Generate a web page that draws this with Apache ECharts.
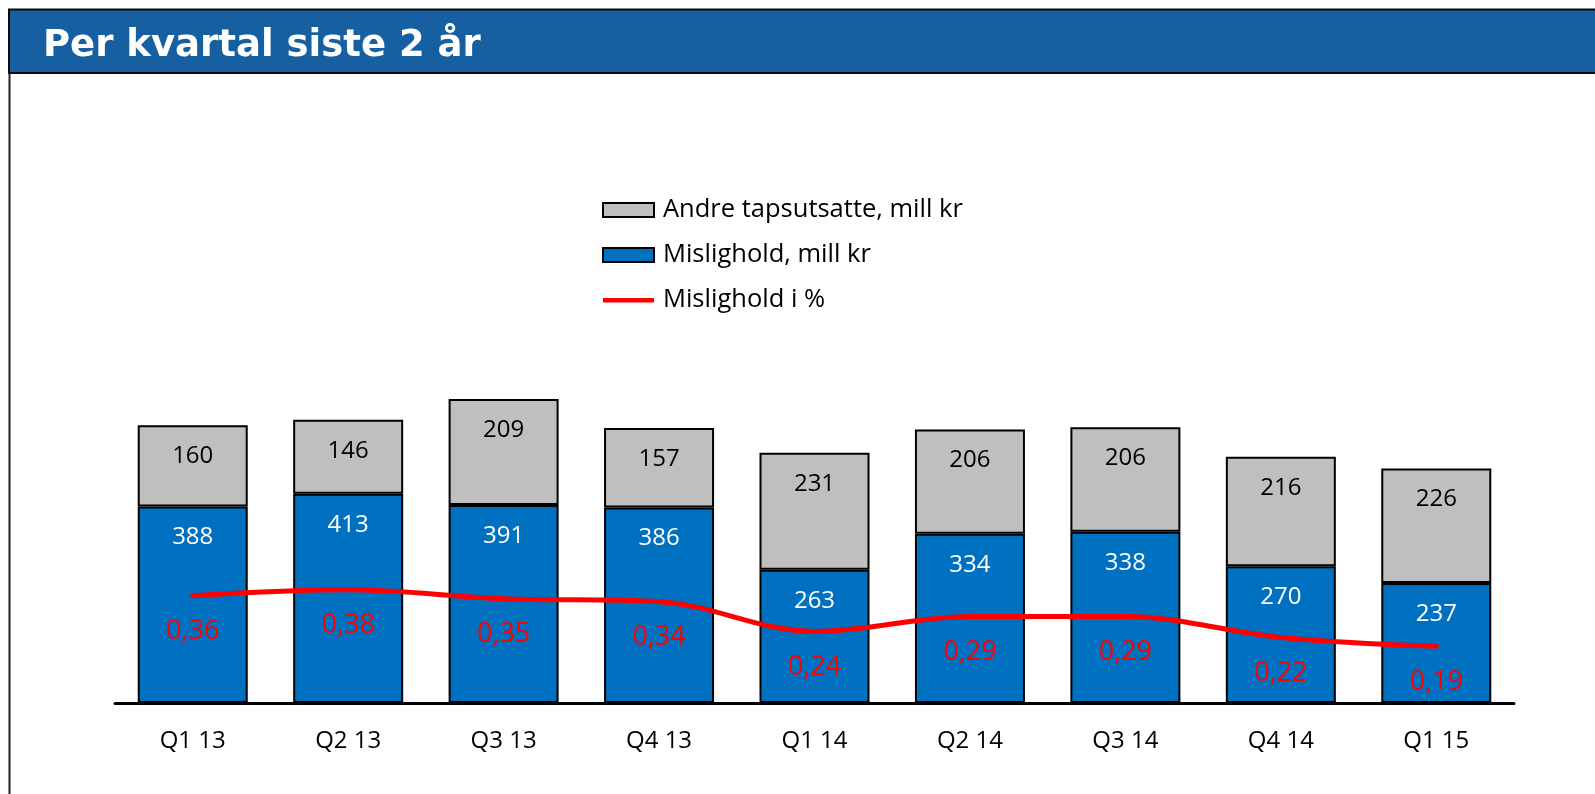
<!DOCTYPE html>
<html>
<head>
<meta charset="utf-8">
<script src="https://cdn.jsdelivr.net/npm/echarts@6/dist/echarts.min.js"></script>
<style>
html,body{margin:0;padding:0;background:#fff;}
#chart{width:1595px;height:794px;}
</style>
</head>
<body>
<div id="chart"></div>
<script>
// ---- data ----
const titleText = 'Per kvartal siste 2 år';
const categories = ['Q1 13','Q2 13','Q3 13','Q4 13','Q1 14','Q2 14','Q3 14','Q4 14','Q1 15'];
const misligholdName = 'Mislighold, mill kr';
const misligholdValues = [388, 413, 391, 386, 263, 334, 338, 270, 237];
const andreName = 'Andre tapsutsatte, mill kr';
const andreValues = [160, 146, 209, 157, 231, 206, 206, 216, 226];
const pctName = 'Mislighold i %';
const pctValues = [0.36, 0.38, 0.35, 0.34, 0.24, 0.29, 0.29, 0.22, 0.19];

const chart = echarts.init(document.getElementById('chart'), null, {renderer: 'canvas'});
const font = '"Open Sans", "Noto Sans", sans-serif';

chart.setOption({
  animation: false,
  backgroundColor: '#ffffff',
  graphic: [
    {
      type: 'rect',
      shape: {x: 9, y: 9.5, width: 1600, height: 63.5},
      style: {fill: '#165FA1', stroke: '#0a0a0a', lineWidth: 2},
      z: 10
    },
    {
      type: 'text',
      x: 43, y: 46,
      style: {
        text: titleText,
        fill: '#ffffff',
        font: 'bold 37px "DejaVu Sans", Verdana, sans-serif',
        verticalAlign: 'middle',
        align: 'left'
      },
      z: 11
    },
    {
      type: 'line',
      shape: {x1: 9.5, y1: 73, x2: 9.5, y2: 794},
      style: {stroke: '#222222', lineWidth: 2},
      z: 10
    }
  ],
  legend: {
    orient: 'vertical',
    left: 597,
    top: 192,
    itemWidth: 51,
    itemHeight: 14,
    itemGap: 19,
    textStyle: {fontFamily: font, fontSize: 25.5, color: '#000', padding: [0, 0, 0, 4]},
    data: [
      {name: andreName, icon: 'rect'},
      {name: misligholdName, icon: 'rect'},
      {name: pctName, icon: 'path://M0,0L0,0M52,14L52,14M0,5L52,5L52,9.5L0,9.5Z', itemStyle: {color: '#ff0000', borderWidth: 0}}
    ]
  },
  grid: {left: 115, right: 81, top: 95, bottom: 91, containLabel: false},
  xAxis: {
    type: 'category',
    data: categories,
    axisLine: {show: true, lineStyle: {color: '#000', width: 3}},
    axisTick: {show: false},
    axisLabel: {fontFamily: font, fontSize: 24, color: '#000', margin: 26}
  },
  yAxis: [
    {type: 'value', min: 0, max: 1200, show: false, splitLine: {show: false}},
    {type: 'value', min: 0, max: 2.04, show: false, splitLine: {show: false}}
  ],
  series: [
    {
      name: misligholdName,
      type: 'bar',
      stack: 'total',
      barWidth: 110,
      data: misligholdValues,
      itemStyle: {color: '#0070C0', borderColor: '#000', borderWidth: 2},
      label: {show: true, position: 'insideTop', distance: 19, color: '#fff', fontFamily: font, fontSize: 24},
      z: 2
    },
    {
      name: andreName,
      type: 'bar',
      stack: 'total',
      barWidth: 110,
      data: andreValues,
      itemStyle: {color: '#BFBFBF', borderColor: '#000', borderWidth: 2},
      label: {show: true, position: 'insideTop', distance: 19, color: '#000', fontFamily: font, fontSize: 24},
      z: 2
    },
    {
      name: pctName,
      type: 'line',
      yAxisIndex: 1,
      data: pctValues,
      smooth: 0.35,
      symbol: 'circle',
      symbolSize: 1,
      itemStyle: {color: '#ff0000'},
      lineStyle: {color: '#ff0000', width: 5, cap: 'round'},
      label: {
        show: true, position: 'bottom', distance: 22, color: '#ff0000',
        fontFamily: font, fontSize: 27,
        formatter: p => p.value.toFixed(2).replace('.', ',')
      },
      z: 5
    }
  ]
});
</script>
</body>
</html>
